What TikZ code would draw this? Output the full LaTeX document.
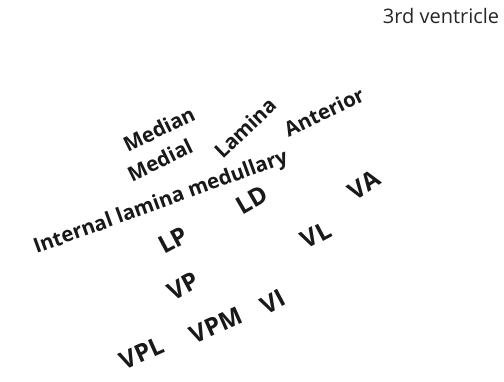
\documentclass[tikz,border=0pt]{standalone}
\usepackage{fontspec}
\setmainfont{Open Sans}
\begin{document}
\begin{tikzpicture}[x=1pt,y=-1pt,
  lbl/.style={font=\fontsize{20.5}{24}\selectfont\bfseries, inner sep=0pt, text=black!90, rotate=26},
  abbr/.style={font=\fontsize{24.5}{28}\selectfont\bfseries, inner sep=0pt, text=black!90, rotate=28},
  plain/.style={font=\fontsize{20}{24}\selectfont, inner sep=0pt, text=black!85}]
\useasboundingbox (0,0) rectangle (504,382);
\node[plain] (third) at (441,16) {3rd ventricle};
\node[lbl] (median) at (159,129) {Median};
\node[lbl] (medial) at (160,160) {Medial};
\node[lbl, rotate=18] (lamina) at (245,128) {Lamina};
\node[lbl] (anterior) at (324,112) {Anterior};
\node[lbl, rotate=-6] (internal) at (161,203) {Internal lamina medullary};
\node[abbr, rotate=2] (ld) at (252,200) {LD};
\node[abbr, rotate=6] (va) at (364,185) {VA};
\node[abbr] (vl) at (316,235) {VL};
\node[abbr] (lp) at (173,240) {LP};
\node[abbr] (vp) at (183,286) {VP};
\node[abbr, rotate=-4] (vpm) at (216,325) {VPM};
\node[abbr] (vi) at (273,302) {VI};
\node[abbr, rotate=-4] (vpl) at (142,353) {VPL};
\end{tikzpicture}
\end{document}
